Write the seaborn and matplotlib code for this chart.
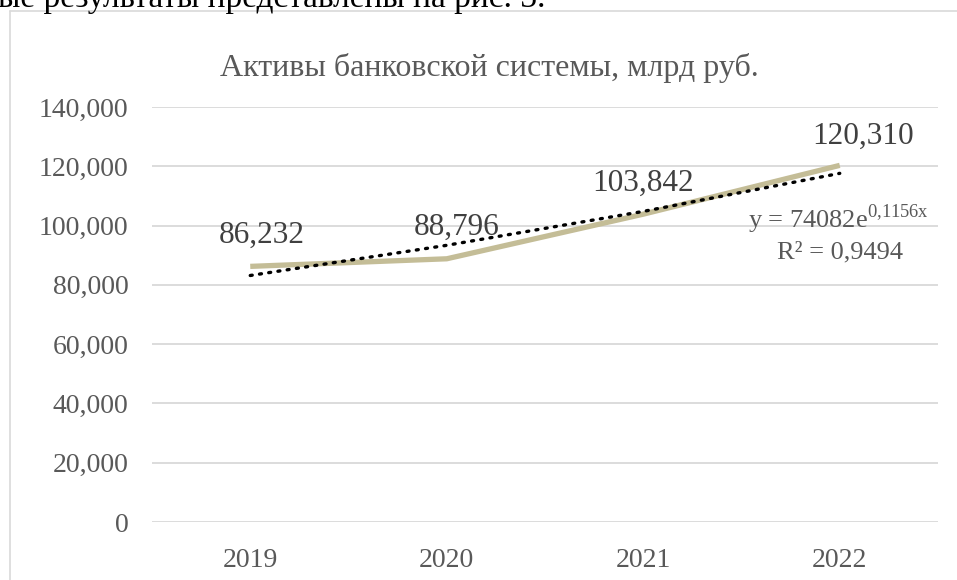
import numpy as np
import pandas as pd
import matplotlib
matplotlib.use("Agg")
import matplotlib.pyplot as plt
import seaborn as sns
from matplotlib.lines import Line2D
from matplotlib.ticker import FuncFormatter

years = ["2019", "2020", "2021", "2022"]
assets = [86232, 88796, 103842, 120310]
title = "Активы банковской системы, млрд руб."
header_text = "ые результаты представлены на рис. 3."
trend_eq_label = r"y = 74082e$^{\mathrm{0{,}1156x}}$"
r2_label = "R² = 0,9494"

sns.set_theme(style="white")
plt.rcParams['font.family'] = ['Liberation Serif', 'DejaVu Serif']
plt.rcParams['mathtext.fontset'] = 'custom'
plt.rcParams['mathtext.rm'] = 'Liberation Serif'

df = pd.DataFrame({"year": years, "assets": assets})
df["pos"] = np.arange(len(years))

# exponential trend fitted on the data (x = 1..n)
xn = np.arange(1, len(assets) + 1)
b, ln_a = np.polyfit(xn, np.log(assets), 1)
trend = np.exp(ln_a) * np.exp(b * xn)

W, H = 957, 580
fig = plt.figure(figsize=(W / 100, H / 100), dpi=100)
ax = fig.add_axes([152 / W, 1 - 522 / H, (938 - 152) / W, (522 - 107) / H])

grey = "#595959"
sns.lineplot(data=df, x="pos", y="assets", ax=ax, color="#C4BD97", lw=3.8,
             solid_capstyle="butt", zorder=3)
ax.plot(df["pos"], trend, color="black", lw=2.4, linestyle=(0, (0.6, 2.2)),
        dash_capstyle="round", zorder=4)

ax.set_xlim(-0.5, 3.5)
ax.set_ylim(0, 140000)
ax.set_yticks(np.arange(0, 140001, 20000))
ax.yaxis.set_major_formatter(FuncFormatter(lambda v, p: f"{int(v):,}"))
ax.set_xticks(df["pos"])
ax.set_xticklabels(years)
ax.grid(axis="y", color="#D9D9D9", lw=1.3)
ax.grid(axis="x", visible=False)
for s in ax.spines.values():
    s.set_visible(False)
ax.tick_params(axis="both", length=0, labelsize=20, colors=grey)
ax.tick_params(axis="y", pad=17)
ax.tick_params(axis="x", pad=19)
ax.set_xlabel("")
ax.set_ylabel("")

label_dx = [0.056, 0.05, 0.0, 0.12]
label_dy = [10500, 10500, 10500, 9800]
for i, v in enumerate(assets):
    ax.text(i + label_dx[i], v + label_dy[i], f"{v:,}", ha="center", va="center",
            fontsize=22.5, color="#404040")

ax.text(3.455, 99200, trend_eq_label, ha="right", va="baseline", fontsize=19, color=grey)
ax.text(3.0, 89000, r2_label, ha="center", va="baseline", fontsize=19, color=grey)

fig.text(489 / W, 1 - 68 / H, title, ha="center", va="center", fontsize=23, color=grey)
fig.text(-2 / W, 1 - 7 / H, header_text, ha="left", va="baseline", fontsize=24, color="black")

fig.add_artist(Line2D([10 / W, 1.0], [1 - 11 / H, 1 - 11 / H], transform=fig.transFigure,
                      color="#D9D9D9", lw=1.2))
fig.add_artist(Line2D([10 / W, 10 / W], [1 - 11 / H, 0], transform=fig.transFigure,
                      color="#D9D9D9", lw=1.2))

fig.savefig("out.png", dpi=100)
